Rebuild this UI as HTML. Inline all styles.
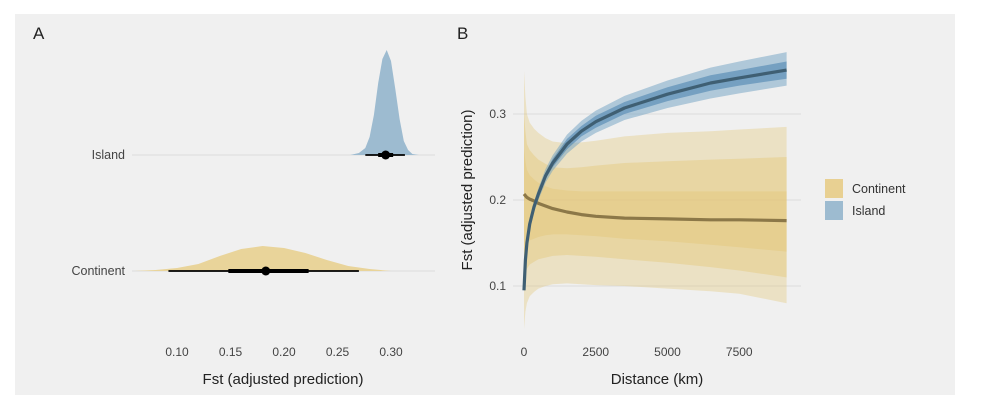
<!DOCTYPE html>
<html><head><meta charset="utf-8"><style>
body{margin:0;background:#fff;width:1000px;height:407px;overflow:hidden}
svg{font-family:"Liberation Sans","DejaVu Sans",sans-serif}
</style></head><body>
<svg id="c" width="1000" height="407">
<rect x="15" y="14" width="940" height="381" fill="#f0f0f0"/>
<g id="A"></g>
<g id="B"></g>
</svg>
<script>
// Panel A data
const aTicks=[0.10,0.15,0.20,0.25,0.30];
const aGroups=["Island","Continent"];
const islandDensX=[0.262,0.270,0.276,0.280,0.284,0.288,0.292,0.296,0.300,0.304,0.308,0.312,0.316,0.320,0.326];
const islandDensY=[0,2,7,18,40,72,96,105,94,66,36,14,5,1,0];
const contDensX=[0.06,0.08,0.10,0.12,0.14,0.16,0.18,0.20,0.22,0.24,0.26,0.28,0.30];
const contDensY=[0,1,3,7,15,22,25,23,18,11,5,2,0];
const aPoint=[0.295,0.183];
const aThick=[[0.288,0.302],[0.148,0.223]];
const aThin=[[0.276,0.313],[0.092,0.270]];
// Panel B data
const bXTicks=[0,2500,5000,7500];
const bYTicks=[0.1,0.2,0.3];
const dist=[0,50,100,200,350,500,750,1000,1500,2000,2500,3500,5000,6500,7500,9150];
const islMean=[0.095,0.130,0.150,0.172,0.192,0.207,0.228,0.243,0.265,0.280,0.291,0.307,0.323,0.336,0.342,0.351];
const islLo95=[0.093,0.127,0.146,0.167,0.186,0.200,0.220,0.234,0.254,0.268,0.278,0.293,0.307,0.318,0.324,0.333];
const islHi95=[0.097,0.133,0.154,0.177,0.198,0.214,0.236,0.252,0.276,0.292,0.304,0.321,0.339,0.354,0.361,0.372];
const islLo80=[0.094,0.128,0.148,0.170,0.189,0.204,0.224,0.238,0.259,0.274,0.284,0.300,0.315,0.327,0.333,0.341];
const islHi80=[0.096,0.132,0.152,0.174,0.195,0.210,0.232,0.248,0.271,0.286,0.298,0.314,0.331,0.345,0.351,0.361];
const conMean=[0.207,0.205,0.203,0.201,0.199,0.196,0.193,0.190,0.186,0.183,0.181,0.179,0.178,0.177,0.177,0.176];
const conLo95=[0.05,0.07,0.08,0.088,0.093,0.097,0.100,0.102,0.103,0.102,0.101,0.100,0.097,0.094,0.091,0.080];
const conHi95=[0.35,0.32,0.30,0.29,0.283,0.278,0.272,0.268,0.266,0.267,0.269,0.274,0.278,0.280,0.282,0.285];
const conLo80=[0.10,0.113,0.12,0.125,0.128,0.131,0.133,0.135,0.136,0.135,0.134,0.131,0.127,0.122,0.118,0.110];
const conHi80=[0.30,0.28,0.265,0.258,0.252,0.247,0.242,0.238,0.237,0.238,0.240,0.243,0.245,0.247,0.248,0.250];
const conLo50=[0.14,0.146,0.15,0.153,0.155,0.157,0.159,0.160,0.160,0.159,0.158,0.155,0.152,0.148,0.145,0.140];
const conHi50=[0.26,0.245,0.235,0.229,0.224,0.220,0.216,0.213,0.211,0.210,0.210,0.210,0.210,0.210,0.210,0.210];

const NS="http://www.w3.org/2000/svg";
function mk(parent,tag,attrs,text){const e=document.createElementNS(NS,tag);for(const k in attrs)e.setAttribute(k,attrs[k]);if(text!==undefined)e.textContent=text;parent.appendChild(e);return e;}
const A=document.getElementById('A'),B=document.getElementById('B');
const ax=v=>177+(v-0.10)*1070;
const baseY=[155,271];
let t;
t=mk(A,'text',{x:33,y:39,'font-size':17,fill:'#222'},'A');


baseY.forEach((y,i)=>{
  let l=mk(A,'line',{x1:132,x2:435,y1:y,y2:y,stroke:'#dcdcdc','stroke-width':1});
  
  
  let tx=mk(A,'text',{x:125,y:y+4,'font-size':12.5,fill:'#444','text-anchor':'end'},aGroups[i]);
  
  
});
function dens(xs,ys,y0,col,name){
  let d='M'+ax(xs[0])+','+y0;
  xs.forEach((x,i)=>{d+=' L'+ax(x).toFixed(1)+','+(y0-ys[i]).toFixed(1);});
  d+=' L'+ax(xs[xs.length-1])+','+y0+'Z';
  const p=mk(A,'path',{d:d,fill:col});
  
  
}
dens(islandDensX,islandDensY,155,'#9dbbd0','island-density');
dens(contDensX,contDensY,271,'#e9d49a','continent-density');
baseY.forEach((y,i)=>{
  let l1=mk(A,'line',{x1:ax(aThin[i][0]),x2:ax(aThin[i][1]),y1:y,y2:y,stroke:'#000','stroke-width':1.8});
  
  
  let l2=mk(A,'line',{x1:ax(aThick[i][0]),x2:ax(aThick[i][1]),y1:y,y2:y,stroke:'#000','stroke-width':4});
  
  
  let c=mk(A,'circle',{cx:ax(aPoint[i]),cy:y,r:4.5,fill:'#000'});
  
  
});
aTicks.forEach(v=>{
  let tx=mk(A,'text',{x:ax(v),y:356,'font-size':12,fill:'#444','text-anchor':'middle'},v.toFixed(2));
  
  
});
t=mk(A,'text',{x:283,y:384,'font-size':15,fill:'#222','text-anchor':'middle'},'Fst (adjusted prediction)');



// Panel B
const bx=d=>524+d*0.0287;
const by=v=>200-(v-0.2)*860;
t=mk(B,'text',{x:457,y:39,'font-size':17,fill:'#222'},'B');


bYTicks.forEach(v=>{
  let l=mk(B,'line',{x1:513,x2:801,y1:by(v),y2:by(v),stroke:'#dcdcdc','stroke-width':1});
  
  
  let tx=mk(B,'text',{x:506,y:by(v)+4,'font-size':12,fill:'#444','text-anchor':'end'},v.toFixed(1));
  
  
});
function band(lo,hi,col,op,name){
  let d='M'+bx(dist[0])+','+by(hi[0]);
  dist.forEach((x,i)=>{d+=' L'+bx(x).toFixed(1)+','+by(hi[i]).toFixed(1);});
  for(let i=dist.length-1;i>=0;i--)d+=' L'+bx(dist[i]).toFixed(1)+','+by(lo[i]).toFixed(1);
  d+='Z';
  const p=mk(B,'path',{d:d,fill:col,'fill-opacity':op});
  
  
}
function line(vals,col,name){
  let d='';
  dist.forEach((x,i)=>{d+=(i?' L':'M')+bx(x).toFixed(1)+','+by(vals[i]).toFixed(1);});
  const p=mk(B,'path',{d:d,fill:'none',stroke:col,'stroke-width':3.2,'stroke-linejoin':'round'});
  
  
}
band(conLo95,conHi95,'#e3c674',0.35,'continent-band-95');
band(conLo80,conHi80,'#e3c674',0.4,'continent-band-80');
band(conLo50,conHi50,'#e3c674',0.4,'continent-band-50');
line(conMean,'#8c7848','continent-line');
band(islLo95,islHi95,'#6e9fc2',0.5,'island-band-95');
band(islLo80,islHi80,'#4f86b0',0.6,'island-band-80');
line(islMean,'#3f5f73','island-line');
bXTicks.forEach(v=>{
  let tx=mk(B,'text',{x:bx(v),y:356,'font-size':12,fill:'#444','text-anchor':'middle'},String(v));
  
  
});
t=mk(B,'text',{x:657,y:384,'font-size':15,fill:'#222','text-anchor':'middle'},'Distance (km)');


t=mk(B,'text',{x:0,y:0,'font-size':15,fill:'#222','text-anchor':'middle',transform:'translate(472,190) rotate(-90)'},'Fst (adjusted prediction)');


const legNames=["Continent","Island"],legCols=["#e8d092","#9dbbd0"];
legNames.forEach((n,i)=>{
  let r=mk(B,'rect',{x:825,y:179+i*22,width:18,height:19,fill:legCols[i]});
  
  
  let tx=mk(B,'text',{x:852,y:193+i*22,'font-size':12.5,fill:'#333'},n);
  
  
});
</script>
</body></html>
